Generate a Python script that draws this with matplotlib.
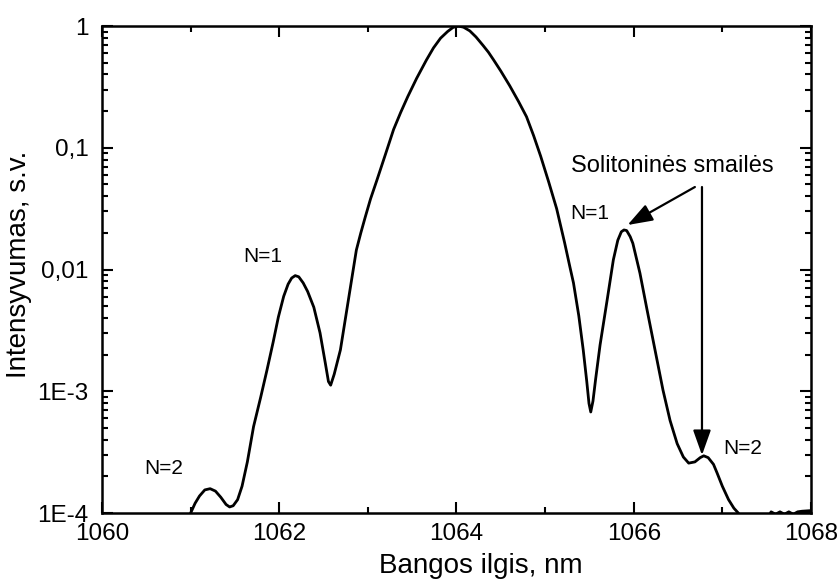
import numpy as np
import matplotlib
matplotlib.use("Agg")
import matplotlib.pyplot as plt
from matplotlib.ticker import FixedLocator, FixedFormatter, LogLocator, NullFormatter, MultipleLocator

plt.rcParams['font.family'] = ['Liberation Sans', 'DejaVu Sans']

# wavelength (nm) and log10 of intensity
wavelength = [1060.95, 1061.00, 1061.05, 1061.10, 1061.16, 1061.22, 1061.28, 1061.34,
              1061.40, 1061.44, 1061.48, 1061.53, 1061.58, 1061.64, 1061.71, 1061.79,
              1061.86, 1061.93, 1061.99, 1062.05, 1062.10, 1062.14, 1062.18, 1062.22,
              1062.27, 1062.32, 1062.39, 1062.46, 1062.52, 1062.555, 1062.58, 1062.62,
              1062.69, 1062.78, 1062.87, 1062.92, 1062.97, 1063.03, 1063.10, 1063.20,
              1063.29, 1063.37, 1063.45, 1063.55, 1063.66, 1063.74, 1063.82, 1063.90,
              1063.96, 1064.02, 1064.08, 1064.15, 1064.22, 1064.30, 1064.36, 1064.42,
              1064.50, 1064.60, 1064.70, 1064.79, 1064.87, 1064.95, 1065.04, 1065.13,
              1065.22, 1065.28, 1065.32, 1065.38, 1065.43, 1065.47, 1065.495, 1065.515,
              1065.54, 1065.57, 1065.62, 1065.70, 1065.77, 1065.82, 1065.86, 1065.89,
              1065.92, 1065.96, 1065.99, 1066.07, 1066.15, 1066.24, 1066.33, 1066.41,
              1066.49, 1066.56, 1066.62, 1066.69, 1066.75, 1066.79, 1066.84, 1066.90,
              1066.94, 1067.00, 1067.07, 1067.13, 1067.18, 1067.25, 1067.40, 1067.55,
              1067.60, 1067.65, 1067.70, 1067.75, 1067.80, 1067.85, 1067.90, 1068.00]
log_intensity = [-4.10, -4.00, -3.92, -3.86, -3.81, -3.80, -3.82, -3.87,
                 -3.93, -3.95, -3.94, -3.89, -3.78, -3.58, -3.29, -3.05,
                 -2.83, -2.60, -2.39, -2.22, -2.12, -2.07, -2.05, -2.06,
                 -2.11, -2.18, -2.31, -2.52, -2.77, -2.92, -2.95, -2.86,
                 -2.66, -2.25, -1.84, -1.70, -1.57, -1.42, -1.27, -1.05,
                 -0.85, -0.71, -0.58, -0.43, -0.28, -0.18, -0.10, -0.045,
                 -0.012, 0.00, -0.01, -0.04, -0.09, -0.16, -0.215, -0.28,
                 -0.37, -0.49, -0.62, -0.745, -0.90, -1.07, -1.28, -1.50,
                 -1.78, -1.98, -2.11, -2.38, -2.66, -2.92, -3.10, -3.17,
                 -3.08, -2.90, -2.62, -2.25, -1.92, -1.76, -1.69, -1.675,
                 -1.68, -1.73, -1.785, -2.03, -2.33, -2.66, -2.99, -3.24,
                 -3.43, -3.54, -3.59, -3.58, -3.545, -3.53, -3.545, -3.60,
                 -3.67, -3.78, -3.89, -3.96, -4.00, -4.10, -4.20, -3.99,
                 -4.01, -3.99, -4.01, -3.99, -4.01, -3.99, -3.985, -3.98]
intensity = 10.0 ** np.array(log_intensity)

x_ticks = [1060, 1062, 1064, 1066, 1068]
y_ticks = [1e-4, 1e-3, 1e-2, 1e-1, 1]
y_tick_labels = ['1E-4', '1E-3', '0,01', '0,1', '1']

fig = plt.figure(figsize=(8.39, 5.87), dpi=100)
ax = fig.add_axes([0.1216, 0.126, 0.845, 0.8297])

ax.plot(wavelength, intensity, color='black', lw=2.0, solid_joinstyle='round')
ax.set_yscale('log')
ax.set_xlim(1060, 1068)
ax.set_ylim(1e-4, 1)

ax.xaxis.set_major_locator(FixedLocator(x_ticks))
ax.xaxis.set_minor_locator(MultipleLocator(1))
ax.yaxis.set_major_locator(FixedLocator(y_ticks))
ax.yaxis.set_major_formatter(FixedFormatter(y_tick_labels))
ax.yaxis.set_minor_locator(LogLocator(base=10, subs=np.arange(2, 10)))
ax.yaxis.set_minor_formatter(NullFormatter())

for s in ax.spines.values():
    s.set_linewidth(1.8)
ax.tick_params(which='both', direction='in', top=True, right=True, width=1.5)
ax.tick_params(which='major', length=8, labelsize=17.5)
ax.tick_params(which='minor', length=4.5)
ax.tick_params(axis='x', which='major', pad=7)
ax.tick_params(axis='y', which='major', pad=9.5)

fig.text(481 / 839, 1 - 566 / 587, 'Bangos ilgis, nm', fontsize=20, ha='center', va='center')
fig.text(19 / 839, 1 - 264 / 587, 'Intensyvumas, s.v.', fontsize=20, ha='center', va='center',
         rotation=90)

ann_fs = 15
ax.text(1060.70, 2.3e-4, 'N=2', fontsize=ann_fs, ha='center', va='center')
ax.text(1061.81, 0.0129, 'N=1', fontsize=ann_fs, ha='center', va='center')
ax.text(1065.50, 0.0286, 'N=1', fontsize=ann_fs, ha='center', va='center')
ax.text(1067.23, 3.36e-4, 'N=2', fontsize=ann_fs, ha='center', va='center')
ax.text(1066.43, 0.0708, 'Solitoninės smailės', fontsize=17, ha='center', va='center')

arrow = dict(arrowstyle='-|>,head_length=0.9,head_width=0.32', lw=1.6, color='black',
             mutation_scale=17, shrinkA=0, shrinkB=0)
ax.annotate('', xy=(1065.93, 0.0232), xytext=(1066.69, 0.0476), arrowprops=arrow)
ax.annotate('', xy=(1066.77, 2.99e-4), xytext=(1066.77, 0.0476), arrowprops=arrow)

fig.savefig('out.png', dpi=100)
